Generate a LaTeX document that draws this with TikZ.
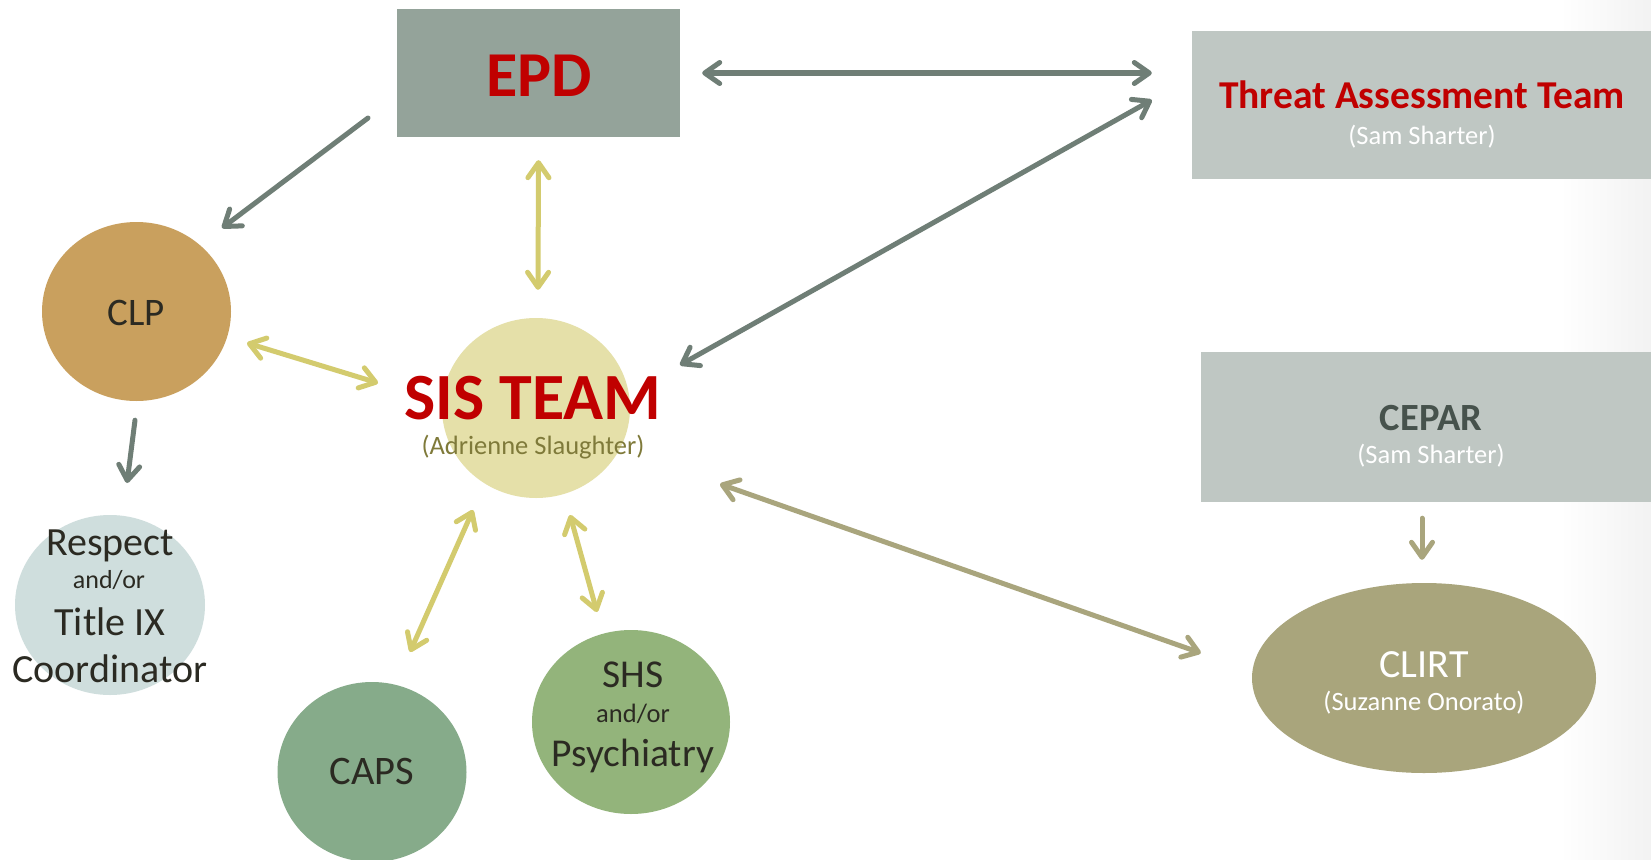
\documentclass[tikz,border=0pt]{standalone}
\usepackage{fontspec}
\setmainfont{Carlito}
\usetikzlibrary{arrows.meta,calc,shapes.geometric}
\definecolor{epdfill}{HTML}{94A39A}
\definecolor{boxfill}{HTML}{BFC7C3}
\definecolor{redtxt}{HTML}{C00000}
\definecolor{cepartxt}{HTML}{46524C}
\definecolor{darktxt}{HTML}{2B2A22}
\definecolor{clpfill}{HTML}{C9A05E}
\definecolor{respfill}{HTML}{CFDEDD}
\definecolor{sisfill}{HTML}{E5E0A9}
\definecolor{sistxt}{HTML}{7F7A3A}
\definecolor{capsfill}{HTML}{86AB8A}
\definecolor{shsfill}{HTML}{93B47B}
\definecolor{clirtfill}{HTML}{A9A57C}
\definecolor{grayarr}{HTML}{6F7E76}
\definecolor{yelarr}{HTML}{D3CB6E}
\definecolor{olivearr}{HTML}{A9A57D}
\newcommand{\fs}[1]{\fontsize{#1pt}{#1pt}\selectfont}
\tikzset{
  rectbox/.style={rectangle, draw=none, inner sep=0pt},
  blob/.style={ellipse, draw=none, inner sep=0pt},
  lbl/.style={anchor=base, inner sep=0pt, text=darktxt},
  tipb/.tip={Straight Barb[length=15pt,width=21pt,line width=5pt,round]},
  conn/.style={line width=5pt, line cap=round},
  gconn/.style={conn, draw=grayarr},
  yconn/.style={conn, draw=yelarr},
  oconn/.style={conn, draw=olivearr},
}
\begin{document}
\begin{tikzpicture}[x=1pt,y=-1pt]
\useasboundingbox (0,0) rectangle (1651,859);
\fill[white] (0,0) rectangle (1651,859);
\shade[left color=white, right color=black!5] (1560,0) rectangle (1651,859);

% shapes
\node[rectbox, fill=epdfill, minimum width=283pt, minimum height=128pt] (EPD) at (538.5,73) {};
\node[rectbox, fill=boxfill, minimum width=459pt, minimum height=148pt] (TAT) at (1421.5,105) {};
\node[rectbox, fill=boxfill, minimum width=450pt, minimum height=150pt] (CEPAR) at (1426,427) {};
\node[blob, fill=clirtfill, minimum width=344pt, minimum height=190pt] (CLIRT) at (1424,678) {};
\node[blob, fill=clpfill, minimum width=189pt, minimum height=179pt] (CLP) at (136.5,311.5) {};
\node[blob, fill=sisfill, minimum width=188pt, minimum height=180pt] (SIS) at (536,408) {};
\node[blob, fill=respfill, minimum width=190pt, minimum height=180pt] (RESP) at (110,605) {};
\node[blob, fill=capsfill, minimum width=189pt, minimum height=180pt] (CAPS) at (372,772) {};
\node[blob, fill=shsfill, minimum width=198pt, minimum height=184pt] (SHS) at (631,722) {};

% texts
\node[lbl, text=redtxt, font=\fs{64}\bfseries] (epdT) at (539,96) {EPD};
\node[lbl, text=redtxt, font=\fs{39.5}\bfseries] (tatT) at (1422,108) {Threat Assessment Team};
\node[lbl, text=white, font=\fs{26.5}] (tatS) at (1422,144) {(Sam Sharter)};
\node[lbl, text=cepartxt, font=\fs{38.5}\bfseries] (cepT) at (1431,430) {CEPAR};
\node[lbl, text=white, font=\fs{26.5}] (cepS) at (1431,463) {(Sam Sharter)};
\node[lbl, text=white, font=\fs{40}] (clirtT) at (1424,677) {CLIRT};
\node[lbl, text=white, font=\fs{26.5}] (clirtS) at (1424,710) {(Suzanne Onorato)};
\node[lbl, text=redtxt, font=\fs{66}\bfseries] (sisT) at (533,419) {SIS TEAM};
\node[lbl, text=sistxt, font=\fs{26.5}] (sisS) at (533,454) {(Adrienne Slaughter)};
\node[lbl, font=\fs{39}] (clpT) at (136,325) {CLP};
\node[lbl, font=\fs{40.5}] (capsT) at (372,784) {CAPS};
\node[lbl, font=\fs{39.5}] (shsT) at (633,687) {SHS};
\node[lbl, font=\fs{26.5}] (shsA) at (633,722) {and/or};
\node[lbl, font=\fs{39.5}] (shsP) at (633,766) {Psychiatry};
\node[lbl, font=\fs{40}] (respT) at (110,555) {Respect};
\node[lbl, font=\fs{26}] (respA) at (109,588) {and/or};
\node[lbl, font=\fs{40}] (respI) at (110,635) {Title IX};
\node[lbl, font=\fs{40}] (respC) at (110,682) {Coordinator};

% connectors
\draw[gconn, -tipb] ($(EPD)+(-170.5,45)$) -- ($(CLP)+(85.5,-83.5)$);
\draw[gconn, tipb-tipb] ($(EPD.east)+(22,0)$) -- ($(TAT.west)+(-40,-32)$);
\draw[gconn, tipb-tipb] ($(SIS)+(144,-43)$) -- ($(TAT.west)+(-40,-5)$);
\draw[yconn, tipb-tipb] ($(EPD.south)+(0,23)$) -- ($(SIS.north)+(2,-28)$);
\draw[yconn, tipb-tipb] ($(CLP)+(110.5,31.5)$) -- ($(SIS)+(-158,-25)$);
\draw[gconn, -tipb] ($(CLP.south)+(-1.5,19)$) -- ($(RESP)+(17,-122)$);
\draw[yconn, tipb-tipb] ($(SIS)+(-63,102)$) -- ($(CAPS)+(38,-120)$);
\draw[yconn, tipb-tipb] ($(SIS)+(34,107)$) -- ($(SHS)+(-34,-110)$);
\draw[oconn, tipb-tipb] ($(SIS)+(184,76)$) -- ($(CLIRT.west)+(-51,-25)$);
\draw[oconn, -tipb] ($(CEPAR.south)+(-4,16)$) -- ($(CLIRT.north)+(-2,-23)$);
\end{tikzpicture}
\end{document}
